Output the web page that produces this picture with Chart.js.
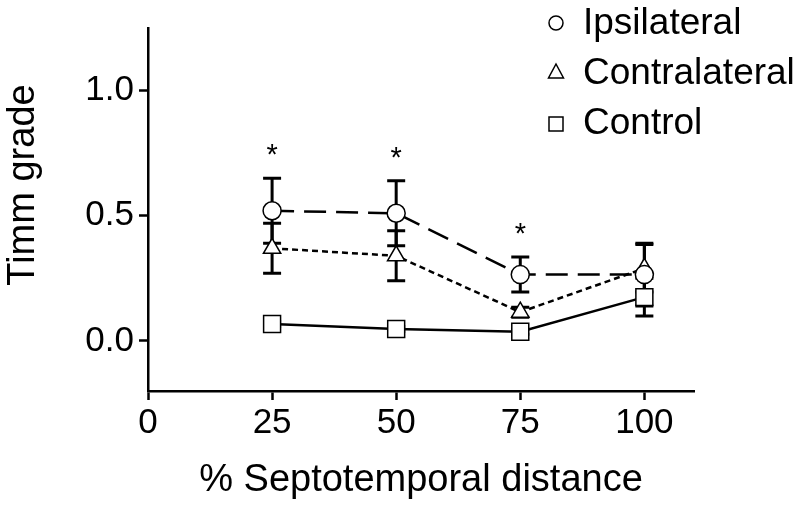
<!DOCTYPE html>
<html>
<head>
<meta charset="utf-8">
<script src="https://cdn.jsdelivr.net/npm/chart.js@4"></script>
<style>
  html, body { margin: 0; padding: 0; background: #fff; }
  .wrap { width: 800px; height: 507px; position: relative; }
</style>
</head>
<body>
<div class="wrap"><canvas id="chart"></canvas></div>
<script>
const xVals = [25, 50, 75, 100];
const ipsiMean = [0.52, 0.51, 0.265, 0.265];
const ipsiErr = [0.13, 0.13, 0.07, 0.125];
const contraMean = [0.37, 0.34, 0.115, 0.29];
const contraErr = [0.10, 0.10, 0.02, 0.095];
const controlMean = [0.068, 0.048, 0.037, 0.175];
const controlErr = [0.01, 0.01, 0.01, 0.075];
const starAt = [25, 50, 75];
const yTicks = [0, 0.5, 1.0];
const xTicks = [0, 25, 50, 75, 100];
const seriesNames = ["Ipsilateral", "Contralateral", "Control"];

const FONT = 'Arial, "Liberation Sans", sans-serif';
const errs = [ipsiErr, contraErr, controlErr];

function pts(means) {
  return xVals.map((x, i) => ({ x: x, y: means[i] }));
}

// error bars under the markers
const errorBars = {
  id: "errorBars",
  beforeDatasetsDraw(chart) {
    const ctx = chart.ctx;
    const xs = chart.scales.x, ys = chart.scales.y;
    ctx.save();
    ctx.strokeStyle = "#000";
    ctx.lineWidth = 3;
    chart.data.datasets.forEach((ds, d) => {
      ds.data.forEach((p, i) => {
        const e = errs[d][i];
        const px = xs.getPixelForValue(p.x);
        const top = ys.getPixelForValue(p.y + e);
        const bot = ys.getPixelForValue(p.y - e);
        ctx.beginPath();
        ctx.moveTo(px, top); ctx.lineTo(px, bot);
        ctx.moveTo(px - 9, top); ctx.lineTo(px + 9, top);
        ctx.moveTo(px - 9, bot); ctx.lineTo(px + 9, bot);
        ctx.stroke();
      });
    });
    ctx.restore();
  }
};

// asterisks, y title, legend
const extras = {
  id: "extras",
  afterDraw(chart) {
    const ctx = chart.ctx;
    const xs = chart.scales.x, ys = chart.scales.y;
    ctx.save();
    ctx.fillStyle = "#000";
    ctx.font = "29px " + FONT;
    ctx.textAlign = "center";
    ctx.textBaseline = "alphabetic";
    starAt.forEach(v => {
      const i = xVals.indexOf(v);
      const px = xs.getPixelForValue(v);
      const py = ys.getPixelForValue(ipsiMean[i] + ipsiErr[i]) - 30;
      ctx.fillText("*", px, py + 16);
    });

    // y axis title (sits a bit above the middle of the axis)
    ctx.save();
    ctx.translate(34, 185);
    ctx.rotate(-Math.PI / 2);
    ctx.font = "38px " + FONT;
    ctx.fillText("Timm grade", 0, 0);
    ctx.restore();

    // legend
    const lx = 556, ly = [23, 72, 124];
    ctx.lineWidth = 1.5;
    ctx.strokeStyle = "#000";
    ctx.fillStyle = "#fff";
    ctx.beginPath(); ctx.arc(lx, ly[0], 7, 0, Math.PI * 2); ctx.fill(); ctx.stroke();
    ctx.beginPath();
    ctx.moveTo(lx, ly[1] - 8); ctx.lineTo(lx + 7.5, ly[1] + 6); ctx.lineTo(lx - 7.5, ly[1] + 6);
    ctx.closePath(); ctx.fill(); ctx.stroke();
    ctx.beginPath(); ctx.rect(lx - 7, ly[2] - 7, 14, 14); ctx.fill(); ctx.stroke();

    ctx.fillStyle = "#000";
    ctx.font = "37px " + FONT;
    ctx.textAlign = "left";
    ctx.textBaseline = "middle";
    seriesNames.forEach((n, k) => ctx.fillText(n, 583, [22, 72, 122][k] + 2));
    ctx.restore();
  }
};

new Chart(document.getElementById("chart"), {
  type: "line",
  data: {
    datasets: [
      {
        label: seriesNames[0],
        data: pts(ipsiMean),
        borderColor: "#000",
        borderWidth: 2.5,
        borderDash: [22, 10],
        pointStyle: "circle",
        pointRadius: 9,
        pointBackgroundColor: "#fff",
        pointBorderColor: "#000",
        pointBorderWidth: 1.5
      },
      {
        label: seriesNames[1],
        data: pts(contraMean),
        borderColor: "#000",
        borderWidth: 2.5,
        borderDash: [6, 4],
        pointStyle: "triangle",
        pointRadius: 10,
        pointBackgroundColor: "#fff",
        pointBorderColor: "#000",
        pointBorderWidth: 1.5
      },
      {
        label: seriesNames[2],
        data: pts(controlMean),
        borderColor: "#000",
        borderWidth: 2.5,
        pointStyle: "rect",
        pointRadius: 12,
        pointBackgroundColor: "#fff",
        pointBorderColor: "#000",
        pointBorderWidth: 1.5
      }
    ]
  },
  options: {
    responsive: true,
    maintainAspectRatio: false,
    animation: false,
    layout: { padding: { top: 28, right: 106, left: 0, bottom: 0 } },
    plugins: { legend: { display: false }, tooltip: { enabled: false } },
    scales: {
      x: {
        type: "linear",
        min: 0,
        max: 110,
        afterBuildTicks: s => { s.ticks = xTicks.map(v => ({ value: v })); },
        afterFit: s => { s.height = 116; },
        grid: { drawOnChartArea: false, drawTicks: true, tickLength: 9, tickColor: "#000", tickWidth: 2.5 },
        border: { display: true, color: "#000", width: 2.5 },
        ticks: { color: "#000", font: { family: FONT, size: 35 }, padding: 2, maxRotation: 0 },
        title: { display: true, text: "% Septotemporal distance", color: "#000", font: { family: FONT, size: 38 }, padding: { top: 2 } }
      },
      y: {
        min: -0.2,
        max: 1.25,
        afterBuildTicks: s => { s.ticks = yTicks.map(v => ({ value: v })); },
        afterFit: s => { s.width = 148; },
        grid: { drawOnChartArea: false, drawTicks: true, tickLength: 9, tickColor: "#000", tickWidth: 2.5 },
        border: { display: true, color: "#000", width: 2.5 },
        ticks: { color: "#000", font: { family: FONT, size: 35 }, padding: 5, callback: v => v.toFixed(1) },
        title: { display: false }
      }
    }
  },
  plugins: [errorBars, extras]
});
</script>
</body>
</html>
